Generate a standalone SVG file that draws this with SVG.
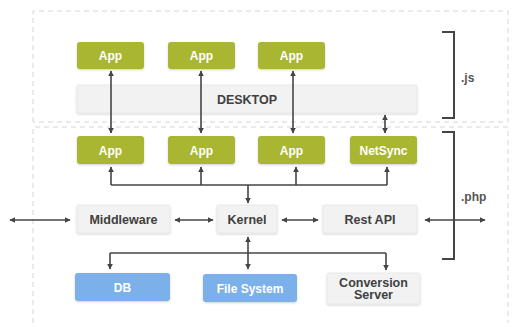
<svg xmlns="http://www.w3.org/2000/svg" width="512" height="327" viewBox="0 0 512 327">
<defs>
<marker id="ah" viewBox="0 0 10 10" refX="9" refY="5" markerWidth="6" markerHeight="6" orient="auto-start-reverse" markerUnits="userSpaceOnUse">
<path d="M0,0 L10,5 L0,10 z" fill="#454545"/>
</marker>
<filter id="sh" x="-10%" y="-10%" width="120%" height="130%">
<feDropShadow dx="0" dy="1" stdDeviation="0.8" flood-color="#000" flood-opacity="0.18"/>
</filter>
</defs>
<style>
.zone{fill:none;stroke:#d6d6d6;stroke-width:1;stroke-dasharray:5,4}
.green{fill:#a9b633;filter:url(#sh)}
.grey{fill:#f2f2f2;stroke:#e6e6e6;stroke-width:0.8;filter:url(#sh)}
.blue{fill:#7cb0eb;filter:url(#sh)}
.tw{font-family:"Liberation Sans",Arial,sans-serif;font-weight:bold;font-size:12px;fill:#ffffff;text-anchor:middle}
.td{font-family:"Liberation Sans",Arial,sans-serif;font-weight:bold;font-size:12.5px;fill:#404040;text-anchor:middle}
.lbl{font-family:"Liberation Sans",Arial,sans-serif;font-weight:bold;font-size:12px;fill:#555555}
.c{fill:none;stroke:#454545;stroke-width:1.6}
.br{fill:none;stroke:#454545;stroke-width:2}
</style>
<rect x="0" y="0" width="512" height="327" fill="#ffffff"/>
<g id="zones">
<path class="zone" d="M33,122 L33,11 L508,11 L508,122 L33,122"/>
<path class="zone" d="M33,323 L33,127 L508,127 L508,323"/>
</g>
<g id="brackets">
<path class="br" d="M442,32 L454,32 L454,118 L442,118"/>
<text class="lbl" x="461" y="82">.js</text>
<path class="br" d="M442,132 L454,132 L454,259 L442,259"/>
<text class="lbl" x="461" y="201">.php</text>
</g>
<g id="app-top-1"><rect class="green" x="77" y="42" width="67" height="27" rx="3"/><text class="tw" x="110.5" y="60">App</text></g>
<g id="app-top-2"><rect class="green" x="168" y="42" width="67" height="27" rx="3"/><text class="tw" x="201.5" y="60">App</text></g>
<g id="app-top-3"><rect class="green" x="258" y="42" width="67" height="27" rx="3"/><text class="tw" x="291.5" y="60">App</text></g>
<g id="desktop"><rect class="grey" x="77" y="85" width="340" height="28" rx="2"/><text class="td" x="247" y="103.5">DESKTOP</text></g>
<g id="app-mid-1"><rect class="green" x="77" y="136" width="67" height="28" rx="3"/><text class="tw" x="110.5" y="154.5">App</text></g>
<g id="app-mid-2"><rect class="green" x="168" y="136" width="67" height="28" rx="3"/><text class="tw" x="201.5" y="154.5">App</text></g>
<g id="app-mid-3"><rect class="green" x="258" y="136" width="67" height="28" rx="3"/><text class="tw" x="291.5" y="154.5">App</text></g>
<g id="netsync"><rect class="green" x="350" y="136" width="67" height="28" rx="3"/><text class="tw" x="383.5" y="154.5">NetSync</text></g>
<g id="middleware"><rect class="grey" x="77" y="205" width="93" height="28" rx="2"/><text class="td" x="123.5" y="223.5">Middleware</text></g>
<g id="kernel"><rect class="grey" x="217" y="205" width="60" height="28" rx="2"/><text class="td" x="247" y="223.5">Kernel</text></g>
<g id="rest-api"><rect class="grey" x="323" y="205" width="94" height="28" rx="2"/><text class="td" x="370" y="223.5">Rest API</text></g>
<g id="db"><rect class="blue" x="75" y="273" width="95" height="28" rx="3"/><text class="tw" x="122.5" y="291.5">DB</text></g>
<g id="file-system"><rect class="blue" x="203" y="274" width="94" height="28" rx="3"/><text class="tw" x="250" y="292.5">File System</text></g>
<g id="conversion-server"><rect class="grey" x="327" y="273" width="93" height="31" rx="2"/><text class="td" x="373.5" y="286.5">Conversion</text><text class="td" x="373.5" y="299">Server</text></g>
<g id="connectors">
<line class="c" x1="111" y1="71" x2="111" y2="133" marker-start="url(#ah)" marker-end="url(#ah)"/>
<line class="c" x1="201" y1="71" x2="201" y2="133" marker-start="url(#ah)" marker-end="url(#ah)"/>
<line class="c" x1="293" y1="71" x2="293" y2="133" marker-start="url(#ah)" marker-end="url(#ah)"/>
<line class="c" x1="385" y1="115" x2="385" y2="133" marker-start="url(#ah)" marker-end="url(#ah)"/>
<path class="c" d="M111,185 L387,185"/>
<line class="c" x1="111" y1="185" x2="111" y2="167" marker-end="url(#ah)"/>
<line class="c" x1="201" y1="185" x2="201" y2="167" marker-end="url(#ah)"/>
<line class="c" x1="296" y1="185" x2="296" y2="167" marker-end="url(#ah)"/>
<line class="c" x1="387" y1="185" x2="387" y2="167" marker-end="url(#ah)"/>
<line class="c" x1="248" y1="185" x2="248" y2="203" marker-end="url(#ah)"/>
<line class="c" x1="10" y1="220" x2="70" y2="220" marker-start="url(#ah)" marker-end="url(#ah)"/>
<line class="c" x1="175" y1="220" x2="213" y2="220" marker-start="url(#ah)" marker-end="url(#ah)"/>
<line class="c" x1="282" y1="220" x2="318" y2="220" marker-start="url(#ah)" marker-end="url(#ah)"/>
<line class="c" x1="425" y1="220" x2="485" y2="220" marker-start="url(#ah)" marker-end="url(#ah)"/>
<line class="c" x1="248" y1="237" x2="248" y2="269" marker-start="url(#ah)" marker-end="url(#ah)"/>
<path class="c" d="M110,253 L386,253"/>
<line class="c" x1="110" y1="253" x2="110" y2="269" marker-end="url(#ah)"/>
<line class="c" x1="386" y1="253" x2="386" y2="270" marker-end="url(#ah)"/>
</g>
</svg>
